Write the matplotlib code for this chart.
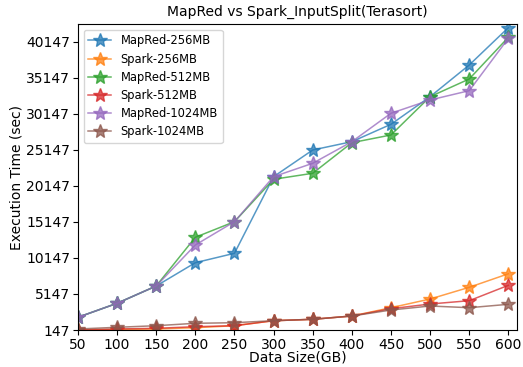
import matplotlib
matplotlib.use("Agg")
import matplotlib.pyplot as plt
import numpy as np

data_size = [50, 100, 150, 200, 250, 300, 350, 400, 450, 500, 550, 600]

mapred_256 = [1909, 3852, 6252, 9485, 10789, 21418, 25122, 26274, 28688, 32519, 36916, 42100]
spark_256 = [147, 216, 286, 466, 744, 1437, 1632, 2090, 3241, 4448, 6072, 7950]
mapred_512 = [1909, 3852, 6252, 13009, 15174, 21057, 21889, 26135, 27203, 32519, 34973, 40758]
spark_512 = [147, 286, 383, 605, 744, 1437, 1632, 2090, 3100, 3755, 4212, 6349]
mapred_1024 = [1909, 3852, 6252, 11941, 15174, 21418, 23277, 26274, 30214, 32060, 33350, 40619]
spark_1024 = [286, 522, 744, 1077, 1160, 1437, 1632, 2090, 2922, 3477, 3241, 3713]

series = [
    ("MapRed-256MB", mapred_256),
    ("Spark-256MB", spark_256),
    ("MapRed-512MB", mapred_512),
    ("Spark-512MB", spark_512),
    ("MapRed-1024MB", mapred_1024),
    ("Spark-1024MB", spark_1024),
]

fig = plt.figure(figsize=(5.23, 3.67), dpi=100)
ax = fig.add_axes([0.149, 0.1008, 0.8395, 0.8338])

for name, vals in series:
    ax.plot(data_size, vals, marker="*", markersize=10, linewidth=1.1,
            alpha=0.75, label=name)

ax.set_xlim(50, 611)
ax.set_ylim(147, 42600)
ax.set_xticks(data_size)
ax.set_yticks(np.arange(147, 42000, 5000))
ax.tick_params(labelsize=10, pad=2)
ax.set_xlabel("Data Size(GB)", fontsize=10, labelpad=-1)
ax.set_ylabel("Execution Time (sec)", fontsize=10, labelpad=2)
ax.set_title("MapRed vs Spark_InputSplit(Terasort)", fontsize=10)
ax.legend(loc="upper left", fontsize=8.3, labelspacing=0.45)

fig.savefig("out.png", dpi=100)
